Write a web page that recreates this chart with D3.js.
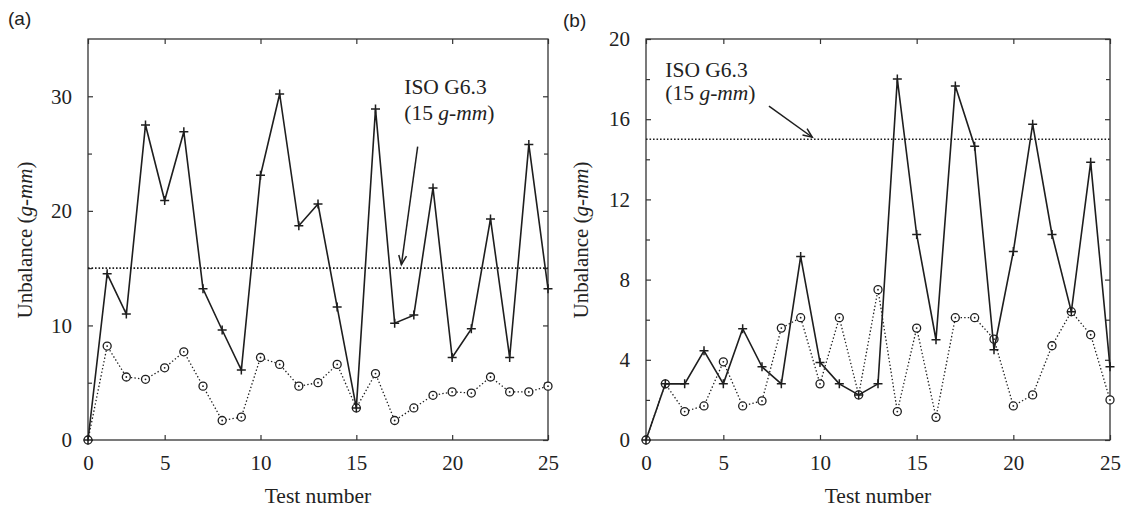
<!DOCTYPE html>
<html>
<head>
<meta charset="utf-8">
<script src="https://cdn.jsdelivr.net/npm/d3@7"></script>
<style>
  body { margin: 0; background: #fff; }
  svg text { font-family: "Liberation Serif", "Times New Roman", serif; fill: #222; }
  svg text.panel-tag { font-family: "Liberation Sans", Arial, sans-serif; }
</style>
</head>
<body>
<svg width="1129" height="510"></svg>
<script>
// test positions along x (first test sits on the "0" tick)
var tests = [1, 2, 3, 4, 5, 6, 7, 8, 9, 10, 11, 12, 13, 14, 15, 16, 17, 18, 19, 20, 21, 22, 23, 24, 25];
var xTickValues = [1, 5, 10, 15, 20, 25];
var xTickLabels = ["0", "5", "10", "15", "20", "25"];

// panel (a)
var aBefore = [0, 14.5, 11.0, 27.5, 20.9, 26.9, 13.2, 9.6, 6.1, 23.1, 30.2, 18.7, 20.6, 11.6, 2.8,
               28.9, 10.2, 10.9, 22.0, 7.2, 9.7, 19.3, 7.2, 25.8, 13.2];
var aAfter  = [0, 8.2, 5.5, 5.3, 6.3, 7.7, 4.7, 1.7, 2.0, 7.2, 6.6, 4.7, 5.0, 6.6, 2.8,
               5.8, 1.7, 2.8, 3.9, 4.2, 4.1, 5.5, 4.2, 4.2, 4.7];
var aYMajor = [0, 10, 20, 30];
var aYMinor = [5, 15, 25];

// panel (b)
var bBefore = [0, 2.8, 2.8, 4.45, 2.8, 5.55, 3.65, 2.8, 9.15, 3.87, 2.8, 2.25, 2.8, 18.0, 10.25,
               5.0, 17.65, 14.65, 4.5, 9.4, 15.75, 10.25, 6.4, 13.85, 3.65];
var bAfter  = [0, 2.8, 1.42, 1.7, 3.9, 1.7, 1.95, 5.58, 6.1, 2.8, 6.1, 2.25, 7.5, 1.42, 5.58,
               1.13, 6.1, 6.1, 5.03, 1.7, 2.25, 4.7, 6.4, 5.25, 2.0];
var bYMajor = [0, 4, 8, 12, 16, 20];
var bYMinor = [2, 6, 10, 14, 18];

var isoLimit = 15;

var svg = d3.select("svg");
var ink = "#1e1e1e";

function drawPanel(opt) {
  var x = d3.scaleLinear().domain([1, 25]).range([opt.left, opt.right]);
  var y = d3.scaleLinear().domain([0, opt.yMax]).range([440, 39]);
  var g = svg.append("g");

  // ticks on all four sides, pointing inward
  g.append("g").attr("transform", "translate(0,440)")
    .call(d3.axisBottom(x).tickValues(xTickValues)
      .tickFormat(function(d, i) { return xTickLabels[i]; })
      .tickSize(-5).tickPadding(15))
    .call(styleAxis);
  g.append("g").attr("transform", "translate(0,39)")
    .call(d3.axisTop(x).tickValues(xTickValues).tickFormat("").tickSize(-5))
    .call(styleAxis);
  g.append("g").attr("transform", "translate(" + opt.left + ",0)")
    .call(d3.axisLeft(y).tickValues(opt.yMajor).tickSize(-5).tickPadding(16))
    .call(styleAxis);
  g.append("g").attr("transform", "translate(" + opt.left + ",0)")
    .call(d3.axisLeft(y).tickValues(opt.yMinor).tickFormat("").tickSize(-4))
    .call(styleAxis);
  g.append("g").attr("transform", "translate(" + opt.right + ",0)")
    .call(d3.axisRight(y).tickValues(opt.yMajor).tickFormat("").tickSize(-5))
    .call(styleAxis);
  g.append("g").attr("transform", "translate(" + opt.right + ",0)")
    .call(d3.axisRight(y).tickValues(opt.yMinor).tickFormat("").tickSize(-4))
    .call(styleAxis);

  // frame
  g.append("rect")
    .attr("x", opt.left).attr("y", 39)
    .attr("width", opt.right - opt.left).attr("height", 401)
    .attr("fill", "none").attr("stroke", "#333").attr("stroke-width", 1.3);

  // ISO limit
  g.append("line")
    .attr("x1", x(1)).attr("x2", x(25))
    .attr("y1", y(isoLimit)).attr("y2", y(isoLimit))
    .attr("stroke", ink).attr("stroke-width", 1.6)
    .attr("stroke-dasharray", "1.6,1.9");

  var line = d3.line()
    .x(function(d) { return x(d[0]); })
    .y(function(d) { return y(d[1]); });

  var after = d3.zip(tests, opt.after);
  var before = d3.zip(tests, opt.before);

  // after balancing: dotted with circles
  g.append("path").datum(after)
    .attr("d", line).attr("fill", "none")
    .attr("stroke", ink).attr("stroke-width", 1.3)
    .attr("stroke-dasharray", "1.4,2.2");
  var c = g.selectAll(".circ").data(after).enter().append("g")
    .attr("transform", function(d) { return "translate(" + x(d[0]) + "," + y(d[1]) + ")"; });
  c.append("circle").attr("r", 4).attr("fill", "#fff")
    .attr("stroke", ink).attr("stroke-width", 1.3);
  c.append("circle").attr("r", 0.9).attr("fill", ink);

  // before balancing: solid with plus signs
  g.append("path").datum(before)
    .attr("d", line).attr("fill", "none")
    .attr("stroke", ink).attr("stroke-width", 1.6);
  g.selectAll(".plus").data(before).enter().append("path")
    .attr("transform", function(d) { return "translate(" + x(d[0]) + "," + y(d[1]) + ")"; })
    .attr("d", "M-4.5,0H4.5M0,-4.5V4.5")
    .attr("stroke", ink).attr("stroke-width", 1.5);

  // annotation
  g.append("text").attr("x", x(opt.noteX)).attr("y", y(opt.noteY1))
    .style("font-size", "21.5px").text("ISO G6.3");
  var t2 = g.append("text").attr("x", x(opt.noteX)).attr("y", y(opt.noteY2))
    .style("font-size", "21.5px");
  t2.append("tspan").text("(15 ");
  t2.append("tspan").style("font-style", "italic").text("g-mm");
  t2.append("tspan").text(")");

  var x0 = x(opt.arrow[0]), y0 = y(opt.arrow[1]), x1 = x(opt.arrow[2]), y1 = y(opt.arrow[3]);
  g.append("line").attr("x1", x0).attr("y1", y0).attr("x2", x1).attr("y2", y1)
    .attr("stroke", ink).attr("stroke-width", 1.5);
  var ang = Math.atan2(y1 - y0, x1 - x0), L = 10, w = 0.4;
  g.append("path")
    .attr("d", "M" + (x1 - L * Math.cos(ang - w)) + "," + (y1 - L * Math.sin(ang - w)) +
      "L" + x1 + "," + y1 +
      "L" + (x1 - L * Math.cos(ang + w)) + "," + (y1 - L * Math.sin(ang + w)))
    .attr("fill", "none").attr("stroke", ink).attr("stroke-width", 1.5);

  // axis titles
  svg.append("text")
    .attr("x", (opt.left + opt.right) / 2).attr("y", 503)
    .attr("text-anchor", "middle").style("font-size", "21.5px")
    .text("Test number");
  var yl = svg.append("text")
    .attr("transform", "translate(" + opt.yLabelX + ",240) rotate(-90)")
    .attr("text-anchor", "middle").style("font-size", "21px");
  yl.append("tspan").text("Unbalance (");
  yl.append("tspan").style("font-style", "italic").text("g-mm");
  yl.append("tspan").text(")");

  svg.append("text").attr("class", "panel-tag")
    .attr("x", opt.tagX).attr("y", opt.tagY)
    .style("font-size", "19px").text(opt.tag);
}

function styleAxis(sel) {
  sel.select(".domain").remove();
  sel.selectAll(".tick line").attr("stroke", "#333").attr("stroke-width", 1.2);
  sel.selectAll(".tick text").style("font-size", "21px")
    .style("font-family", "'Liberation Serif', serif").attr("fill", "#222");
}

drawPanel({
  left: 88, right: 548, yMax: 35, yMajor: aYMajor, yMinor: aYMinor,
  before: aBefore, after: aAfter,
  noteX: 17.5, noteY1: 30.2, noteY2: 27.9,
  arrow: [18.2, 25.6, 17.35, 15.3],
  yLabelX: 32, tag: "(a)", tagX: 8, tagY: 25
});
drawPanel({
  left: 646, right: 1110, yMax: 20, yMajor: bYMajor, yMinor: bYMinor,
  before: bBefore, after: bAfter,
  noteX: 2.0, noteY1: 18.1, noteY2: 16.95,
  arrow: [7.36, 16.65, 9.6, 15.1],
  yLabelX: 588, tag: "(b)", tagX: 563, tagY: 27
});
</script>
</body>
</html>
